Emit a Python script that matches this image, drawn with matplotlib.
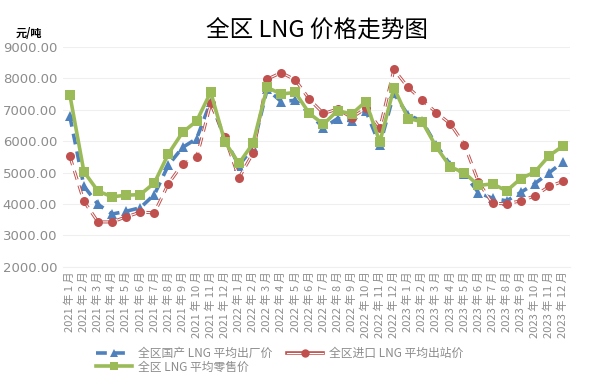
import numpy as np
import matplotlib
matplotlib.use("Agg")
import matplotlib.pyplot as plt
from matplotlib.lines import Line2D

plt.rcParams['font.family'] = ['Noto Sans CJK SC', 'DejaVu Sans']

# meses 2021-01 .. 2023-12
meses = []
for a in [2021, 2022, 2023]:
    for m in range(1, 13):
        meses.append(f"{a} 年 {m} 月")

# precios (元/吨)
nacional = [6800, 4570, 3990, 3680, 3770, 3880, 4300, 5240, 5800, 6080, 7260, 6080,
            5220, 5800, 7650, 7260, 7300, 6880, 6420, 6720, 6640, 6970, 5870, 7520,
            6830, 6640, 5870, 5250, 4950, 4360, 4180, 4100, 4370, 4650, 4990, 5340]
importado = [5520, 4090, 3430, 3430, 3590, 3740, 3720, 4650, 5270, 5480, 7200, 6120,
             4830, 5620, 7970, 8180, 7950, 7330, 6880, 7020, 6750, 7040, 6420, 8280,
             7710, 7310, 6910, 6550, 5890, 4700, 4020, 4010, 4100, 4260, 4560, 4720]
minorista = [7480, 5030, 4410, 4230, 4280, 4300, 4670, 5600, 6280, 6640, 7560, 5980,
             5290, 5930, 7710, 7500, 7550, 6880, 6540, 6970, 6860, 7260, 5970, 7700,
             6720, 6620, 5820, 5180, 4990, 4590, 4640, 4420, 4810, 5020, 5530, 5850]

azul = '#4f81bd'
rojo = '#c0504d'
verde = '#9bbb59'
gris = '#8c8c8c'

x = np.arange(len(meses))

fig = plt.figure(figsize=(5.92, 3.84), dpi=100)
ax = fig.add_axes([0.106, 0.305, 0.857, 0.573])

ax.plot(x, nacional, color=azul, lw=2.6, ls=(0, (3, 2)), marker='^', ms=7,
        markeredgewidth=0, zorder=3)
# linea doble (contorno rojo con centro blanco)
ax.plot(x, importado, color=rojo, lw=2.2, ls=(0, (3, 2)), zorder=4)
ax.plot(x, importado, color='white', lw=0.8, zorder=4)
ax.plot(x, importado, ls='none', color=rojo, marker='o', ms=6.5, markeredgewidth=0, zorder=4)
ax.plot(x, minorista, color=verde, lw=2.6, marker='s', ms=7, markeredgewidth=0, zorder=5)

ax.set_xlim(-0.5, len(meses) - 0.5)
ax.set_ylim(2000, 9000)
ax.set_yticks(np.arange(2000, 9001, 1000))
ax.set_yticklabels([f"{v:.2f}" for v in range(2000, 9001, 1000)], family='DejaVu Sans')
ax.set_xticks(x)
ax.set_xticklabels(meses, rotation=90, fontsize=8)
ax.tick_params(axis='y', length=0, labelsize=9.5, colors=gris, pad=4)
ax.tick_params(axis='x', length=0, colors=gris, pad=3)
ax.grid(axis='y', color='#efefef', lw=0.8)
ax.set_axisbelow(True)
for s in ['top', 'right', 'left']:
    ax.spines[s].set_visible(False)
ax.spines['bottom'].set_color('#efefef')

fig.text(0.535, 0.89, '全区 LNG 价格走势图', ha='center', va='bottom', fontsize=17)
fig.text(0.027, 0.895, '元/吨', ha='left', va='bottom', fontsize=8, fontweight='bold')

h1 = Line2D([], [], color=azul, lw=2.6, ls=(0, (3, 2)), marker='^', ms=6, markeredgewidth=0)
h2 = (Line2D([], [], color=rojo, lw=2.6),
      Line2D([], [], color='white', lw=0.8),
      Line2D([], [], color=rojo, ls='none', marker='o', ms=6, markeredgewidth=0))
h3 = Line2D([], [], color=verde, lw=2.6, marker='s', ms=6, markeredgewidth=0)
leg = fig.legend([h1, h3, h2], ['全区国产 LNG 平均出厂价', '全区 LNG 平均零售价', '全区进口 LNG 平均出站价'],
                 loc='lower left', bbox_to_anchor=(0.145, 0.0), ncol=2, frameon=False,
                 fontsize=8.5, handlelength=3, labelspacing=0.05, columnspacing=1.3,
                 handletextpad=0.5)
for t in leg.get_texts():
    t.set_color(gris)

fig.savefig('out.png', dpi=100)
